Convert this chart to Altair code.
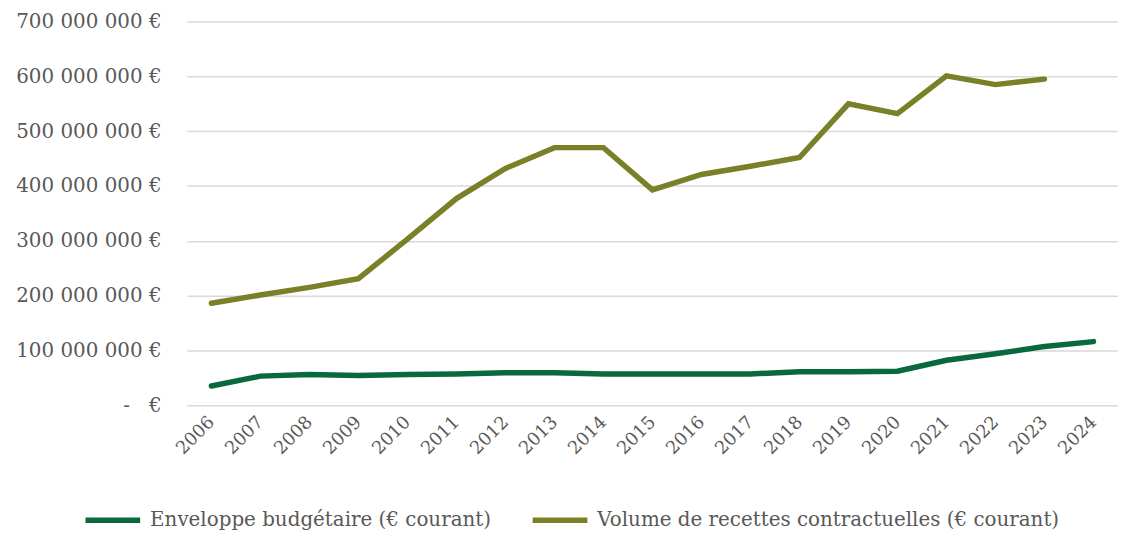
import altair as alt
import pandas as pd

years = [str(y) for y in range(2006, 2025)]
enveloppe = [35, 53, 56, 54, 56, 57, 59, 59, 57, 57, 57, 57, 61, 61, 62, 82, 94, 107, 116]
volume = [186, 201, 215, 231, 303, 377, 432, 470, 470, 393, 421, 436, 452, 550, 532, 601, 585, 595, None]

s_env = "Enveloppe budgétaire (€ courant)"
s_vol = "Volume de recettes contractuelles (€ courant)"

rows = []
for y, v in zip(years, enveloppe):
    rows.append({"annee": y, "serie": s_env, "valeur": v * 1_000_000})
for y, v in zip(years, volume):
    if v is not None:
        rows.append({"annee": y, "serie": s_vol, "valeur": v * 1_000_000})
df = pd.DataFrame(rows)

FONT = "DejaVu Serif"
TXT = "#595959"

nb = "\u00a0"
label_expr = (
    "datum.value == 0 ? '-" + nb * 3 + "€' : "
    "replace(replace(replace(format(datum.value, ','), ',', '" + nb + "'), ',', '" + nb + "'), ',', '" + nb + "') + '" + nb + "€'"
)

chart = (
    alt.Chart(df)
    .mark_line(strokeWidth=5.5, strokeCap="round", strokeJoin="miter")
    .encode(
        x=alt.X(
            "annee:O",
            title=None,
            sort=years,
            scale=alt.Scale(type="point", padding=0.5),
            axis=alt.Axis(
                labelAngle=-45,
                labelAlign="right",
                labelBaseline="middle",
                labelFont=FONT,
                labelFontSize=18,
                labelColor=TXT,
                labelPadding=14,
                domain=False,
                ticks=False,
                grid=False,
            ),
        ),
        y=alt.Y(
            "valeur:Q",
            title=None,
            scale=alt.Scale(domain=[0, 700_000_000], nice=False),
            axis=alt.Axis(
                values=[i * 100_000_000 for i in range(8)],
                labelExpr=label_expr,
                labelFont=FONT,
                labelFontSize=20,
                labelColor=TXT,
                labelPadding=26,
                domain=False,
                ticks=False,
                grid=True,
                gridColor="#D9D9D9",
                gridWidth=1.5,
            ),
        ),
        color=alt.Color(
            "serie:N",
            title=None,
            scale=alt.Scale(domain=[s_env, s_vol], range=["#086A3C", "#7A8027"]),
            legend=alt.Legend(
                orient="none",
                direction="horizontal",
                legendX=-105,
                legendY=471,
                symbolType="stroke",
                symbolSize=3025,
                symbolStrokeWidth=5.5,
                labelFont=FONT,
                labelFontSize=20,
                labelColor=TXT,
                columnPadding=30,
                labelOffset=7,
                labelLimit=600,
            ),
        ),
    )
    .properties(
        width=937,
        height=386,
        autosize="none",
        padding={"left": 180, "top": 12, "right": 0, "bottom": 136},
    )
    .configure_view(stroke=None)
)

chart.save("out.html", embed_options={"renderer": "svg", "actions": False})
